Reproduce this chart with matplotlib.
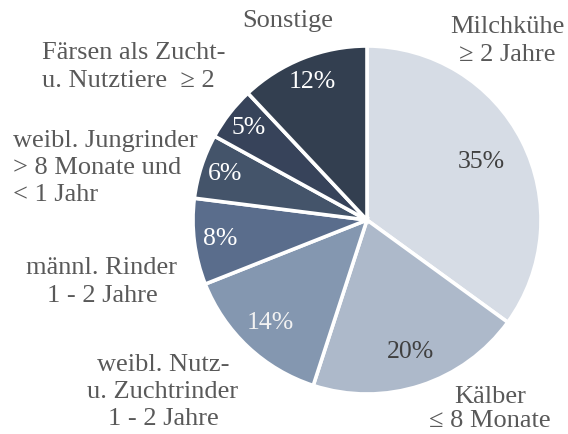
import matplotlib
matplotlib.use("Agg")
import matplotlib.pyplot as plt
import numpy as np

# slice values (percent), clockwise from 12 o'clock
categories = ["Milchkühe ≥ 2 Jahre", "Kälber ≤ 8 Monate", "weibl. Nutz- u. Zuchtrinder 1 - 2 Jahre",
              "männl. Rinder 1 - 2 Jahre", "weibl. Jungrinder > 8 Monate und < 1 Jahr",
              "Färsen als Zucht- u. Nutztiere ≥ 2", "Sonstige"]
shares = [35, 20, 14, 8, 6, 5, 12]
colors = ["#D6DCE5", "#ADB9CA", "#8497B0", "#5A6D8C", "#44546A", "#37435A", "#333F50"]
pct_colors = ["#404040", "#404040", "#F2F2F2", "white", "white", "white", "white"]
pct_dist = [0.74, 0.80, 0.81, 0.85, 0.86, 0.86, 0.85]

# outer label texts
label_texts = ["Milchkühe\n≥ 2 Jahre", "Kälber\n≤ 8 Monate", "weibl. Nutz-\nu. Zuchtrinder\n1 - 2 Jahre",
               "männl. Rinder\n1 - 2 Jahre", "weibl. Jungrinder\n> 8 Monate und\n< 1 Jahr",
               "Färsen als Zucht-\nu. Nutztiere  ≥ 2", "Sonstige"]

plt.rcParams['font.family'] = ['Liberation Serif', 'DejaVu Serif']

# figure pixel layout: pie centre (367, 220), radius 174 px
W, H = 568, 434
cx, cy, R = 367, 220, 174
fig = plt.figure(figsize=(W / 100, H / 100), dpi=100)
ax = fig.add_axes([0, 0, 1, 1])

wedges, _ = ax.pie(shares, colors=colors, startangle=90, counterclock=False, radius=1,
                   wedgeprops=dict(edgecolor='white', linewidth=2.6))

# percentage labels at each wedge's mid angle
for w, s, c, d in zip(wedges, shares, pct_colors, pct_dist):
    mid = np.deg2rad((w.theta1 + w.theta2) / 2)
    ax.text(d * np.cos(mid), d * np.sin(mid), f"{s}%", ha='center', va='center',
            fontsize=18.5, color=c)


def px(x, y):
    return (x - cx) / R, (cy - y) / R


# outer label anchors (pixel positions in the figure), alignment, line spacing
label_pos = [(507, 41), (490, 409), (163, 392), (102, 282), (13, 168), (42, 67), (288, 21)]
label_ha = ['center', 'center', 'center', 'center', 'left', 'left', 'center']
label_ls = [1.35, 1.1, 1.3, 1.4, 1.3, 1.3, 1.3]
for t, (x, y), ha, ls in zip(label_texts, label_pos, label_ha, label_ls):
    lx, ly = px(x, y)
    ax.text(lx, ly, t, ha=ha, va='center', multialignment=ha, linespacing=ls,
            fontsize=19, color='#595959')

x0, y0 = px(0, 0)
x1, y1 = px(W, H)
ax.set_xlim(x0, x1)
ax.set_ylim(y1, y0)
ax.set_aspect('auto')
ax.axis('off')

plt.savefig("out.png", dpi=100)
plt.close()
